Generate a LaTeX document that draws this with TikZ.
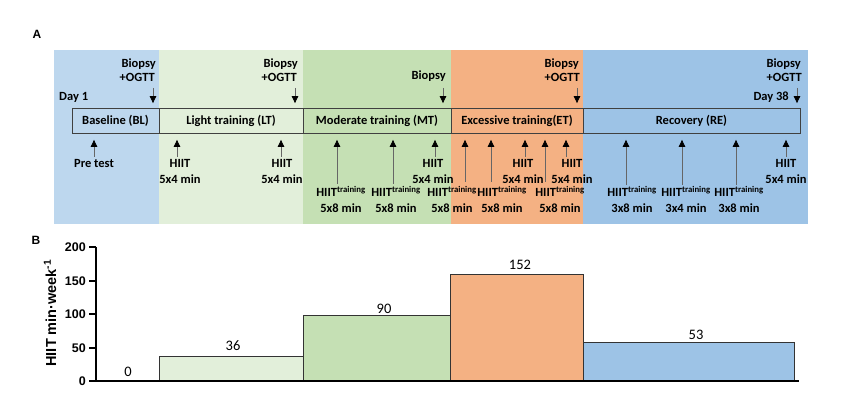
\documentclass[tikz,border=0pt]{standalone}
\usepackage{fontspec}
\setmainfont{Carlito}
\newfontfamily\arialfont{Liberation Sans}
\usetikzlibrary{arrows.meta}
\definecolor{blBlue}{HTML}{BDD7EE}
\definecolor{ltGreen}{HTML}{E2EFDA}
\definecolor{mtGreen}{HTML}{C5E0B4}
\definecolor{etOrange}{HTML}{F4B183}
\definecolor{reBlue}{HTML}{9DC3E6}
\newcommand{\lblpair}[5]{%
  \node[txt, anchor=base] (#1a) at (#2,#3) {#4};
  \node[txt, anchor=base] (#1b) at (#2,#3+16) {#5};}
\newcommand{\HT}{HIIT\textsuperscript{training}}
\begin{document}
\begin{tikzpicture}[x=1pt,y=-1pt,
  txt/.style={inner sep=0pt, font=\bfseries\fontsize{12.5}{14}\selectfont},
  phasebox/.style={draw=black!75, line width=0.8pt, minimum height=25pt, inner sep=0pt,
     font=\bfseries\fontsize{12.5}{14}\selectfont},
  arr/.style={-{Triangle[width=6.5pt,length=7pt,color=black]}, line width=0.7pt, draw=black!60},
  darr/.style={arr, shorten >=5pt},
  uarr/.style={arr, shorten >=6pt},
  bar/.style={draw=black!80, line width=0.9pt, inner sep=0pt, anchor=south west},
  val/.style={inner sep=0pt, anchor=base, font=\fontsize{14.5}{16}\selectfont},
  tick/.style={inner sep=0pt, anchor=east, font=\arialfont\bfseries\fontsize{12.5}{14}\selectfont},
  panel/.style={inner sep=0pt, font=\arialfont\bfseries\fontsize{12}{14}\selectfont}]
\useasboundingbox (0,0) rectangle (865,395);

% ---------- panel A backgrounds ----------
\fill[blBlue]   (54,50) rectangle (159,224);
\fill[ltGreen]  (159,50) rectangle (303,224);
\fill[mtGreen]  (303,50) rectangle (451,224);
\fill[etOrange] (451,50) rectangle (583,224);
\fill[reBlue]   (583,50) rectangle (808,224);

\node[panel] (labA) at (37,34) {A};
\node[panel] (labB) at (36,240) {B};

% ---------- phase bar ----------
\node[phasebox, minimum width=87pt]  (bl) at (115.5,121) {Baseline (BL)};
\node[phasebox, minimum width=144pt] (lt) at (231,121)   {Light training (LT)};
\node[phasebox, minimum width=148pt] (mt) at (377,121)   {Moderate training (MT)};
\node[phasebox, minimum width=132pt] (et) at (517,121)   {Excessive training(ET)};
\node[phasebox, minimum width=217pt] (re) at (691.5,121) {Recovery (RE)};

% ---------- top labels ----------
\node[txt, anchor=base east] (b1a) at (156,68) {Biopsy};
\node[txt, anchor=base east] (b1b) at (155,82) {+OGTT};
\node[txt, anchor=base east] (b2a) at (298,68) {Biopsy};
\node[txt, anchor=base east] (b2b) at (297,82) {+OGTT};
\node[txt, anchor=base east] (b3a) at (446,80) {Biopsy};
\node[txt, anchor=base east] (b4a) at (579,68) {Biopsy};
\node[txt, anchor=base east] (b4b) at (580,82) {+OGTT};
\node[txt, anchor=base east] (b5a) at (801,68) {Biopsy};
\node[txt, anchor=base east] (b5b) at (802,82) {+OGTT};
\node[txt, anchor=base west] (day1) at (59,101) {Day 1};
\node[txt, anchor=base east] (day38) at (789,101) {Day 38};

\coordinate (d1) at (153,88);
\coordinate (d2) at (295,88);
\coordinate (d3) at (443,88);
\coordinate (d4) at (577,88);
\coordinate (d5) at (797,88);
\draw[darr] (d1) -- (bl.north -| d1);
\draw[darr] (d2) -- (lt.north -| d2);
\draw[darr] (d3) -- (mt.north -| d3);
\draw[darr] (d4) -- (et.north -| d4);
\draw[darr] (d5) -- (re.north -| d5);

% ---------- bottom labels ----------
\node[txt, anchor=base] (pre) at (94,168) {Pre test};
\lblpair{l1}{180}{168}{HIIT}{5x4 min}
\lblpair{l2}{282}{168}{HIIT}{5x4 min}
\lblpair{m1}{341}{197}{\HT}{5x8 min}
\lblpair{m2}{396}{197}{\HT}{5x8 min}
\lblpair{m3}{433}{168}{HIIT}{5x4 min}
\lblpair{e1}{452}{197}{\HT}{5x8 min}
\lblpair{e2}{502}{197}{\HT}{5x8 min}
\lblpair{e3}{523}{168}{HIIT}{5x4 min}
\lblpair{e4}{560}{197}{\HT}{5x8 min}
\lblpair{e5}{572}{168}{HIIT}{5x4 min}
\lblpair{r1}{632}{197}{\HT}{3x8 min}
\lblpair{r2}{686}{197}{\HT}{3x4 min}
\lblpair{r3}{739}{197}{\HT}{3x8 min}
\lblpair{r4}{786}{168}{HIIT}{5x4 min}

\coordinate (u0) at (94,157);
\coordinate (u1) at (177,157);
\coordinate (u2) at (281,157);
\coordinate (u3) at (337,184);
\coordinate (u4) at (393,184);
\coordinate (u5) at (435,157);
\coordinate (u6) at (465,182);
\coordinate (u7) at (491,182);
\coordinate (u8) at (525,157);
\coordinate (u9) at (545,182);
\coordinate (u10) at (566,157);
\coordinate (u11) at (626,185);
\coordinate (u12) at (682,185);
\coordinate (u13) at (736,185);
\coordinate (u14) at (786,157);
\draw[uarr] (u0) -- (bl.south -| u0);
\draw[uarr] (u1) -- (lt.south -| u1);
\draw[uarr] (u2) -- (lt.south -| u2);
\draw[uarr] (u3) -- (mt.south -| u3);
\draw[uarr] (u4) -- (mt.south -| u4);
\draw[uarr] (u5) -- (mt.south -| u5);
\draw[uarr] (u6) -- (et.south -| u6);
\draw[uarr] (u7) -- (et.south -| u7);
\draw[uarr] (u8) -- (et.south -| u8);
\draw[uarr] (u9) -- (et.south -| u9);
\draw[uarr] (u10) -- (et.south -| u10);
\draw[uarr] (u11) -- (re.south -| u11);
\draw[uarr] (u12) -- (re.south -| u12);
\draw[uarr] (u13) -- (re.south -| u13);
\draw[uarr] (u14) -- (re.south -| u14);

% ---------- panel B chart ----------
\node[bar, fill=ltGreen,  minimum width=144pt, minimum height=24pt]  (barLT) at (159,381) {};
\node[bar, fill=mtGreen,  minimum width=147pt, minimum height=65pt]  (barMT) at (303,381) {};
\node[bar, fill=etOrange, minimum width=133pt, minimum height=106pt] (barET) at (450,381) {};
\node[bar, fill=reBlue,   minimum width=211pt, minimum height=38pt]  (barRE) at (583,381) {};

\draw[line width=1.1pt] (96,247) -- (96,381) -- (799,381);
\foreach \v/\yy in {0/381,50/348,100/314,150/281,200/247}{
  \draw[line width=1.1pt] (89,\yy) -- (96,\yy);
  \node[tick] (t\v) at (86,\yy) {\v};
}
\node[rotate=90, inner sep=0pt, font=\arialfont\bfseries\fontsize{14.5}{16}\selectfont] (ylab) at (50,313)
  {HIIT min·week\textsuperscript{-1}};

\node[val] (v0) at (128,376.5) {0};
\node[val] (v36) at (233,350.5) {36};
\node[val] (v90) at (384,313.5) {90};
\node[val] (v152) at (520,269.5) {152};
\node[val] (v53) at (696,339.5) {53};
\end{tikzpicture}
\end{document}
